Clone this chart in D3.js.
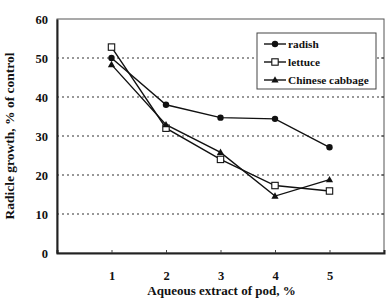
<!DOCTYPE html>
<html>
<head>
<meta charset="utf-8">
<script src="https://cdn.jsdelivr.net/npm/d3@7"></script>
<style>
  html, body { margin: 0; padding: 0; background: #fff; }
  svg text { font-family: "Liberation Serif", "DejaVu Serif", serif; font-weight: bold; fill: #111; }
</style>
</head>
<body>
<div id="chart"></div>
<script>
/* Radicle growth vs. aqueous pod extract — three test crops */

const concentrations = [1, 2, 3, 4, 5];
const radish   = [50, 38, 34.7, 34.4, 27.1];
const lettuce  = [52.8, 32, 24, 17.3, 15.9];
const cabbage  = [48.3, 32.9, 25.8, 14.6, 18.8];
const yTicks   = [0, 10, 20, 30, 40, 50, 60];
const seriesNames = ['radish', 'lettuce', 'Chinese cabbage'];

const W = 390, H = 300;
const M = { left: 57, right: 6, top: 19, bottom: 47 };

const svg = d3.select('#chart').append('svg')
  .attr('width', W).attr('height', H);

const x = d3.scaleLinear().domain([0, 6]).range([M.left, W - M.right]);
const y = d3.scaleLinear().domain([0, 60]).range([H - M.bottom, M.top]);

// dotted gridlines
svg.append('g').selectAll('line')
  .data(yTicks.filter(t => t > 0 && t < 60))
  .join('line')
  .attr('x1', x(0)).attr('x2', x(6))
  .attr('y1', d => y(d)).attr('y2', d => y(d))
  .attr('stroke', '#333').attr('stroke-width', 1.2)
  .attr('stroke-dasharray', '2,3');

// frame: top/right lighter
svg.append('rect')
  .attr('x', x(0)).attr('y', y(60))
  .attr('width', x(6) - x(0)).attr('height', y(0) - y(60))
  .attr('fill', 'none').attr('stroke', '#555').attr('stroke-width', 1);

// left + bottom axes
const yAxis = svg.append('g')
  .attr('transform', `translate(${x(0)},0)`)
  .call(d3.axisLeft(y).tickValues(yTicks).tickSize(0).tickPadding(9));
yAxis.select('.domain').attr('stroke', '#222').attr('stroke-width', 2);
yAxis.selectAll('text').attr('font-size', 12.5);

const xAxis = svg.append('g')
  .attr('transform', `translate(0,${y(0)})`)
  .call(d3.axisBottom(x).tickValues(concentrations).tickFormat(d3.format('d'))
    .tickSize(-3).tickPadding(18));
xAxis.select('.domain').attr('stroke', '#222').attr('stroke-width', 2);
xAxis.selectAll('.tick line').attr('stroke', '#444');
xAxis.selectAll('text').attr('font-size', 12.5);

// right-side small ticks
svg.append('g').selectAll('line')
  .data(yTicks.filter(t => t > 0 && t < 60))
  .join('line')
  .attr('x1', x(6) - 3).attr('x2', x(6))
  .attr('y1', d => y(d)).attr('y2', d => y(d))
  .attr('stroke', '#444');

// axis titles
svg.append('text')
  .attr('transform', `translate(14,${(y(0) + y(60)) / 2}) rotate(-90)`)
  .attr('text-anchor', 'middle').attr('font-size', 13.5)
  .text('Radicle growth, % of control');

svg.append('text')
  .attr('x', (x(0) + x(6)) / 2 + 1).attr('y', 295)
  .attr('text-anchor', 'middle').attr('font-size', 13)
  .text('Aqueous extract of pod, %');

// series
const line = d3.line().x((d, i) => x(concentrations[i])).y(d => y(d));
const data = [radish, lettuce, cabbage];

data.forEach(vals => {
  svg.append('path').datum(vals)
    .attr('d', line).attr('fill', 'none')
    .attr('stroke', '#111').attr('stroke-width', 1.4);
});

function marker(g, kind, cx, cy) {
  if (kind === 0) {
    g.append('circle').attr('cx', cx).attr('cy', cy).attr('r', 3.2).attr('fill', '#111');
  } else if (kind === 1) {
    g.append('rect').attr('x', cx - 3.2).attr('y', cy - 3.2)
      .attr('width', 6.4).attr('height', 6.4)
      .attr('fill', '#fff').attr('stroke', '#111').attr('stroke-width', 1.1);
  } else {
    g.append('path')
      .attr('d', `M${cx},${cy - 3.8}L${cx + 3.6},${cy + 2.6}L${cx - 3.6},${cy + 2.6}Z`)
      .attr('fill', '#111');
  }
}

const marks = svg.append('g');
data.forEach((vals, k) => {
  vals.forEach((v, i) => marker(marks, k, x(concentrations[i]), y(v)));
});

// legend
const lg = svg.append('g');
lg.append('rect')
  .attr('x', 257).attr('y', 33).attr('width', 119).attr('height', 56)
  .attr('fill', '#fff').attr('stroke', '#444').attr('stroke-width', 1);

seriesNames.forEach((name, k) => {
  const ly = 44 + k * 18;
  lg.append('line').attr('x1', 264).attr('x2', 286)
    .attr('y1', ly).attr('y2', ly)
    .attr('stroke', '#111').attr('stroke-width', 1.4);
  marker(lg, k, 275, ly);
  lg.append('text').attr('x', 288).attr('y', ly + 4)
    .attr('font-size', 11.3).text(name);
});
</script>
</body>
</html>
